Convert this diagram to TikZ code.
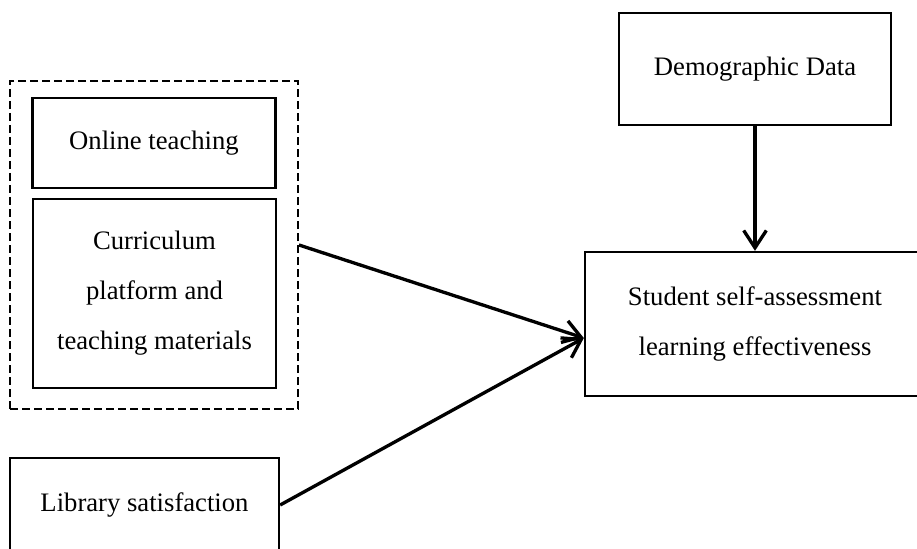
\documentclass[tikz,border=0pt]{standalone}
\usepackage{fontspec}
\setmainfont{Liberation Serif}
\usepackage{tikz}
\usetikzlibrary{arrows.meta}
\tikzset{every picture/.style={line width=0.75pt}}
\tikzset{
  factorbox/.style={draw, line width=1.75pt, inner sep=0pt, align=center,
    font=\fontsize{20}{37.5}\selectfont},
  groupbox/.style={draw, dashed, dash pattern=on 6pt off 3pt, line width=1.5pt, inner sep=0pt},
  effectarrow/.style={line width=2.5pt, -{Straight Barb[length=13pt,width=17pt,line width=2.5pt]}}
}

\begin{document}
\begin{tikzpicture}[x=0.75pt,y=0.75pt,yscale=-1,xscale=1]
\useasboundingbox (0,0) rectangle (917,549);
\clip (0,0) rectangle (917,549);

%Shape: Dashed group
\node [groupbox, minimum width=216pt, minimum height=246pt] (group) at (154,245) {};
%Shape: Rectangle
\node [factorbox, minimum width=182.25pt, minimum height=67.5pt] (online) at (154,143) {Online teaching};
%Shape: Rectangle
\node [factorbox, minimum width=182.25pt, minimum height=141.75pt] (curriculum) at (154.5,293.5) {Curriculum\\platform and\\teaching materials};
%Shape: Rectangle
\node [factorbox, minimum width=201.75pt, minimum height=70.5pt] (library) at (144.5,505) {Library satisfaction};
%Shape: Rectangle
\node [factorbox, minimum width=204pt, minimum height=84pt] (demographic) at (755,69) {Demographic Data};
%Shape: Rectangle
\node [factorbox, minimum width=255pt, minimum height=108pt] (student) at (755,324) {Student self-assessment\\learning effectiveness};

\coordinate (hit) at ([yshift=10.5pt]student.west);

%Straight Lines
\draw [effectarrow] (group.east) -- (hit);
%Straight Lines
\draw [effectarrow] (library.east) -- (hit);
%Straight Lines
\draw [effectarrow] (demographic.south) -- (student.north);

\end{tikzpicture}
\end{document}
